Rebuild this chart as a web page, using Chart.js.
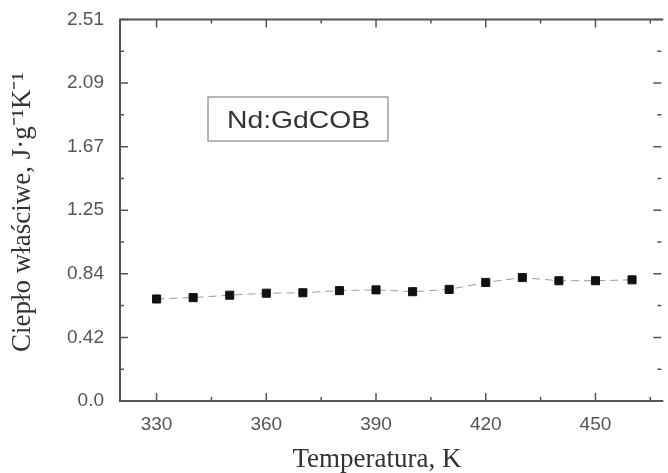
<!DOCTYPE html>
<html>
<head>
<meta charset="utf-8">
<script src="https://cdn.jsdelivr.net/npm/chart.js@4.4.1/dist/chart.umd.min.js"></script>
<style>
  html, body { margin: 0; padding: 0; background: #fff; }
  #c { display: block; }
</style>
</head>
<body>
<canvas id="c" width="668" height="473"></canvas>
<script>
// ---- data ----
const temperatures = [330, 340, 350, 360, 370, 380, 390, 400, 410, 420, 430, 440, 450, 460];
const heatCapacity = [0.671, 0.680, 0.696, 0.709, 0.712, 0.726, 0.731, 0.719, 0.734, 0.780, 0.812, 0.791, 0.791, 0.797];
const seriesLabel = 'Nd:GdCOB';
const xTickValues = [330, 360, 390, 420, 450];
const xMinorTicks = [345, 375, 405, 435, 465];
const yTickValues = [0, 0.418, 0.837, 1.255, 1.673, 2.092, 2.51];
const yTickLabels = ['0.0', '0.42', '0.84', '1.25', '1.67', '2.09', '2.51'];
const yMinorTicks = [0.209, 0.628, 1.046, 1.464, 1.883, 2.301];
const xTitle = 'Temperatura, K';
const yTitle = 'Ciepło właściwe, J·g\u207B\u00B9K\u207B\u00B9';

const frameColor = '#555';

const framePlugin = {
  id: 'frame',
  afterDraw(chart) {
    const ctx = chart.ctx;
    const a = chart.chartArea;
    const xs = chart.scales.x, ys = chart.scales.y;
    ctx.save();
    // frame (left, top, bottom)
    ctx.strokeStyle = frameColor;
    ctx.lineWidth = 2;
    ctx.beginPath();
    ctx.moveTo(a.right + 2, a.top);
    ctx.lineTo(a.left, a.top);
    ctx.lineTo(a.left, a.bottom);
    ctx.lineTo(a.right + 2, a.bottom);
    ctx.stroke();
    // ticks
    ctx.lineWidth = 1.5;
    ctx.beginPath();
    const drawX = (v, len) => {
      const px = xs.getPixelForValue(v);
      ctx.moveTo(px, a.bottom); ctx.lineTo(px, a.bottom - len);
      ctx.moveTo(px, a.top); ctx.lineTo(px, a.top + len);
    };
    const drawY = (v, len) => {
      const py = ys.getPixelForValue(v);
      ctx.moveTo(a.left, py); ctx.lineTo(a.left + len, py);
      ctx.moveTo(a.right, py); ctx.lineTo(a.right - len, py);
    };
    xTickValues.forEach(v => drawX(v, 8));
    xMinorTicks.forEach(v => drawX(v, 4));
    yTickValues.forEach(v => drawY(v, 8));
    yMinorTicks.forEach(v => drawY(v, 4));
    ctx.stroke();

    // legend box
    ctx.fillStyle = '#fff';
    ctx.strokeStyle = '#888';
    ctx.lineWidth = 1.2;
    ctx.fillRect(208, 97, 180, 44);
    ctx.strokeRect(208, 97, 180, 44);
    ctx.fillStyle = '#333';
    ctx.font = '24px "Liberation Sans", Arial, sans-serif';
    ctx.textBaseline = 'alphabetic';
    ctx.textAlign = 'left';
    ctx.save();
    ctx.translate(227, 128);
    ctx.scale(1.18, 1);
    ctx.fillText(seriesLabel, 0, 0);
    ctx.restore();

    // axis titles
    ctx.fillStyle = '#333';
    ctx.font = '27px "Liberation Serif", "Times New Roman", serif';
    ctx.textAlign = 'center';
    ctx.textBaseline = 'alphabetic';
    ctx.fillText(xTitle, 377, 467);
    ctx.save();
    ctx.translate(30, (a.top + a.bottom) / 2 + 2);
    ctx.rotate(-Math.PI / 2);
    ctx.fillText(yTitle, 0, 0);
    ctx.restore();
    ctx.restore();
  }
};

new Chart(document.getElementById('c'), {
  type: 'line',
  data: {
    datasets: [{
      label: seriesLabel,
      data: temperatures.map((t, i) => ({ x: t, y: heatCapacity[i] })),
      borderColor: '#9a9a9a',
      borderWidth: 1,
      borderDash: [8, 5],
      pointStyle: 'rect',
      pointRadius: 5.7,
      pointBackgroundColor: '#111',
      pointBorderColor: '#111',
      pointBorderWidth: 1,
      tension: 0,
      fill: false
    }]
  },
  options: {
    responsive: false,
    animation: false,
    devicePixelRatio: 1,
    layout: { padding: { top: 17, right: 0, left: 0, bottom: 0 } },
    plugins: { legend: { display: false }, tooltip: { enabled: false } },
    scales: {
      x: {
        type: 'linear',
        min: 320,
        max: 468,
        grid: { display: false },
        border: { display: false },
        afterBuildTicks: s => { s.ticks = xTickValues.map(v => ({ value: v })); },
        afterFit: s => { s.height = 72; },
        ticks: {
          padding: 4,
          color: '#555',
          font: { family: '"Liberation Sans", Arial, sans-serif', size: 19 },
          maxRotation: 0,
          callback: v => String(v)
        }
      },
      y: {
        type: 'linear',
        min: 0,
        max: 2.51,
        grid: { display: false },
        border: { display: false },
        afterBuildTicks: s => { s.ticks = yTickValues.map(v => ({ value: v })); },
        afterFit: s => { s.width = 120; },
        ticks: {
          padding: 8,
          color: '#555',
          font: { family: '"Liberation Sans", Arial, sans-serif', size: 19 },
          callback: (v) => {
            const i = yTickValues.indexOf(v);
            return i >= 0 ? yTickLabels[i] : '';
          }
        }
      }
    }
  },
  plugins: [framePlugin]
});
</script>
</body>
</html>
